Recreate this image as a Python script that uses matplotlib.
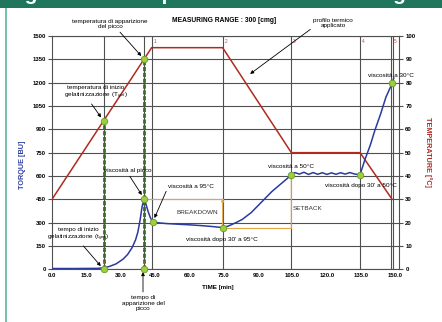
import numpy as np
import matplotlib
matplotlib.use("Agg")
import matplotlib.pyplot as plt
from matplotlib.patches import Rectangle

plt.rcParams['font.family'] = ['Liberation Sans', 'DejaVu Sans']

# --- data -------------------------------------------------------------
# temperature profile, time [min] / temperature [°C]
temp_t = [0, 43.5, 74.5, 104.5, 134.5, 148.5]
temp_c = [30, 95, 95, 50, 50, 30]

# torque curve, time [min] / torque [BU]
visc_t = [0, 10, 20, 22.5, 25, 28, 31, 33, 35, 36.5, 37.5, 38.5, 39.3, 40.2,
          41, 42, 43, 44, 47, 50, 55, 60, 65, 70, 74.5, 77, 80, 83, 87,
          92, 96, 100, 104.5, 106, 108, 110, 112, 114, 116, 118, 120, 122,
          124, 126, 128, 130, 132, 134.5, 136.5, 139, 141, 143.5, 145.8,
          148.5, 149.2]
visc_bu = [5, 5, 6, 10, 18, 35, 65, 95, 140, 190, 240, 320, 400, 455,
           420, 370, 330, 305, 298, 294, 290, 286, 281, 275, 268, 278, 298,
           320, 365, 440, 500, 550, 606, 622, 612, 624, 610, 622, 611, 621,
           610, 620, 611, 621, 612, 622, 613, 608, 700, 800, 895, 1000, 1107,
           1195, 1230]

t_gel = 22.5        # start of gelatinisation
t_peak = 40.2       # peak time
t_95 = 44           # viscosity at 95 °C
t_hold95 = 74.5     # end of hold at 95 °C
t_50 = 104.5        # viscosity at 50 °C
t_hold50 = 134.5    # end of hold at 50 °C
t_end = 148.5       # viscosity at 30 °C

event_lines = [22.5, 40.2, 43.7, 74.5, 104.5, 134.5, 148.0, 148.9]
event_marks = {43.7: "1", 74.5: "2", 104.5: "3", 134.5: "4", 148.5: "5"}

xticks = np.arange(0, 151, 15)
yticks_bu = np.arange(0, 1501, 150)
yticks_c = np.arange(0, 101, 10)

BU_PER_C = 15.0     # 1500 BU <-> 100 °C

RED = "#b02a22"
BLUE = "#2a3a9e"
DKGREEN = "#3d6b2c"
LTGREEN = "#9ccf3c"
ORANGE = "#e3a546"
GRID = "#505050"

W, H = 442, 322
fig = plt.figure(figsize=(W / 100, H / 100), dpi=100)
fig.patch.set_facecolor("white")


def fp(x, y):
    """pixel position from the top-left corner -> figure fraction"""
    return (x / W, 1 - y / H)


# banner and side line; the banner caption runs off the top edge
fig.patches.append(Rectangle((0, 1 - 8 / H), 1, 8 / H, transform=fig.transFigure,
                             facecolor="#1f765b", edgecolor="none", zorder=0))
fig.patches.append(Rectangle((5 / W, 0), 2 / W, 1 - 8 / H, transform=fig.transFigure,
                             facecolor="#74c2aa", edgecolor="none", zorder=0))
fig.text(*fp(6, 0.5), "Figura 2 - Esempio di curva viscoamilografica e parametri",
         color="white", fontsize=15, fontweight="bold", va="baseline", ha="left")

ax = fig.add_axes([52 / W, 1 - 269.3 / H, 347 / W, 233.3 / H])
ax.set_xlim(0, 151.5)
ax.set_ylim(0, 1500)

for y in yticks_bu:
    ax.axhline(y, color=GRID, lw=0.8, zorder=1)
for x in event_lines:
    ax.axvline(x, color=GRID, lw=0.8, zorder=1)
for x, s in event_marks.items():
    ax.text(x + 0.8, 1480, s, color="#d04040", fontsize=3.5, va="top", ha="left")

temp_bu = np.array(temp_c) * BU_PER_C
ax.plot(temp_t, temp_bu, color=RED, lw=1.1, zorder=3)
ax.plot(visc_t, visc_bu, color=BLUE, lw=1.1, zorder=4)

# temperatures at gelatinisation start and peak, on the profile
bu_gel_temp = np.interp(t_gel, temp_t, temp_bu)
bu_peak_temp = np.interp(t_peak, temp_t, temp_bu)

ax.plot([t_gel, t_gel], [0, bu_gel_temp], color=DKGREEN, lw=2.0,
        ls=(0, (1.5, 0.6)), zorder=2)
ax.plot([t_peak, t_peak], [0, bu_peak_temp], color=DKGREEN, lw=2.0,
        ls=(0, (1.5, 0.6)), zorder=2)

# breakdown / setback
v_peak = np.interp(t_peak, visc_t, visc_bu)
v_hold95 = np.interp(t_hold95, visc_t, visc_bu)
v_50 = np.interp(t_50, visc_t, visc_bu)
ax.plot([t_peak, t_hold95], [v_peak, v_peak], color=ORANGE, lw=0.8, zorder=2)
ax.plot([t_hold95, t_50], [v_hold95, v_hold95], color=ORANGE, lw=0.8, zorder=2)
for x, y0, y1 in [(t_hold95, v_hold95, v_peak), (t_50, v_hold95, v_50)]:
    ax.annotate("", xy=(x, y1), xytext=(x, y0),
                arrowprops=dict(arrowstyle="-|>", color=ORANGE, lw=0.8,
                                mutation_scale=4, shrinkA=0, shrinkB=0), zorder=2)

pts_t = [t_gel, t_peak, t_gel, t_peak, t_peak, t_95, t_hold95, t_50, t_hold50, t_end]
pts_y = [0, 0, bu_gel_temp, bu_peak_temp] + \
        [np.interp(t, visc_t, visc_bu) for t in [t_peak, t_95, t_hold95, t_50, t_hold50, t_end]]
ax.scatter(pts_t, pts_y, s=22, color=LTGREEN, edgecolor="#6b9a2a", lw=0.6,
           zorder=6, clip_on=False)

for x in [t_gel, t_peak]:
    ax.text(x, 30, "8", color="#d05030", fontsize=3, ha="center", va="bottom", zorder=5)

# axes styling
ax.set_xticks(xticks)
ax.set_xticklabels([f"{v:.1f}" for v in xticks], fontsize=4.3, fontweight="bold")
ax.set_yticks(yticks_bu)
ax.set_yticklabels([str(v) for v in yticks_bu], fontsize=4.3, fontweight="bold")
ax.tick_params(axis="x", length=0, pad=3)
ax.tick_params(axis="y", length=3, width=0.8, color=GRID, pad=1.5)
for sp in ax.spines.values():
    sp.set_color(GRID)
    sp.set_linewidth(0.8)

ax2 = ax.twinx()
ax2.set_ylim(0, 100)
ax2.set_yticks(yticks_c)
ax2.set_yticklabels([str(v) for v in yticks_c], fontsize=4.3, fontweight="bold")
ax2.tick_params(axis="y", length=3, width=0.8, color=GRID, pad=1.5)
for sp in ax2.spines.values():
    sp.set_visible(False)

fig.text(*fp(218, 287), "TIME [min]", fontsize=4.5, fontweight="bold",
         ha="center", va="center")
fig.text(*fp(23, 165), "TORQUE [BU]", fontsize=5.2, fontweight="bold",
         color="#3040a0", rotation=90, ha="center", va="center")
fig.text(*fp(428, 152), "TEMPERATURE [°C]", fontsize=5.2, fontweight="bold",
         color=RED, rotation=-90, ha="center", va="center")
fig.text(*fp(224, 20), "MEASURING RANGE : 300 [cmg]", fontsize=4.8,
         fontweight="bold", ha="center", va="center")

arrow = dict(arrowstyle="-|>", color="black", lw=0.6, mutation_scale=5,
             shrinkA=0, shrinkB=3)
fs = 4.6

ax.annotate("temperatura di apparizione\ndel picco", xy=(t_peak, bu_peak_temp),
            xytext=fp(110, 24), textcoords="figure fraction", fontsize=fs,
            ha="center", va="center", linespacing=1.2,
            arrowprops=dict(arrow, relpos=(0.6, 0)))
ax.annotate("temperatura di inizio\ngelatinizzazione (T$_{gel}$)", xy=(t_gel, bu_gel_temp),
            xytext=fp(96, 93), textcoords="figure fraction", fontsize=fs,
            ha="center", va="center", linespacing=1.2,
            arrowprops=dict(arrow, relpos=(0.4, 0)))
ax.annotate("profilo termico\napplicato", xy=(86.5, 1256),
            xytext=fp(333, 23), textcoords="figure fraction", fontsize=fs,
            ha="center", va="center", linespacing=1.2,
            arrowprops=dict(arrow, shrinkB=0, relpos=(0.0, 0.1)))
ax.annotate("viscosità al picco", xy=(t_peak, v_peak),
            xytext=fp(128, 171), textcoords="figure fraction", fontsize=fs,
            ha="center", va="center",
            arrowprops=dict(arrow, relpos=(0.5, 0)))
ax.annotate("viscosità a 95°C", xy=(t_95, np.interp(t_95, visc_t, visc_bu)),
            xytext=fp(191, 186), textcoords="figure fraction", fontsize=fs,
            ha="center", va="center",
            arrowprops=dict(arrow, relpos=(0.0, 0.3)))
ax.annotate("tempo di inizio\ngelatinizzazione (t$_{gel}$)", xy=(t_gel, 0),
            xytext=fp(78, 235), textcoords="figure fraction", fontsize=fs,
            ha="center", va="center", linespacing=1.2,
            arrowprops=dict(arrow, relpos=(0.55, 0)))
ax.annotate("tempo di\napparizione del\npicco", xy=fp(143, 272),
            xycoords="figure fraction", xytext=fp(143, 303),
            textcoords="figure fraction", fontsize=fs, ha="center", va="center",
            linespacing=1.2, arrowprops=dict(arrow, shrinkB=0))

fig.text(*fp(197, 213), "BREAKDOWN", fontsize=fs, ha="center", va="center", color="#333333")
fig.text(*fp(222, 239), "viscosità dopo 30' a 95°C", fontsize=fs, ha="center", va="center")
fig.text(*fp(293, 208), "SETBACK", fontsize=fs, ha="left", va="center", color="#333333")
fig.text(*fp(291, 166), "viscosità a 50°C", fontsize=fs, ha="center", va="center")
fig.text(*fp(361, 185), "viscosità dopo 30' a 50°C", fontsize=fs, ha="center", va="center")
fig.text(*fp(391, 75), "viscosità a 30°C", fontsize=fs, ha="center", va="center")

fig.savefig("out.png", dpi=100)
